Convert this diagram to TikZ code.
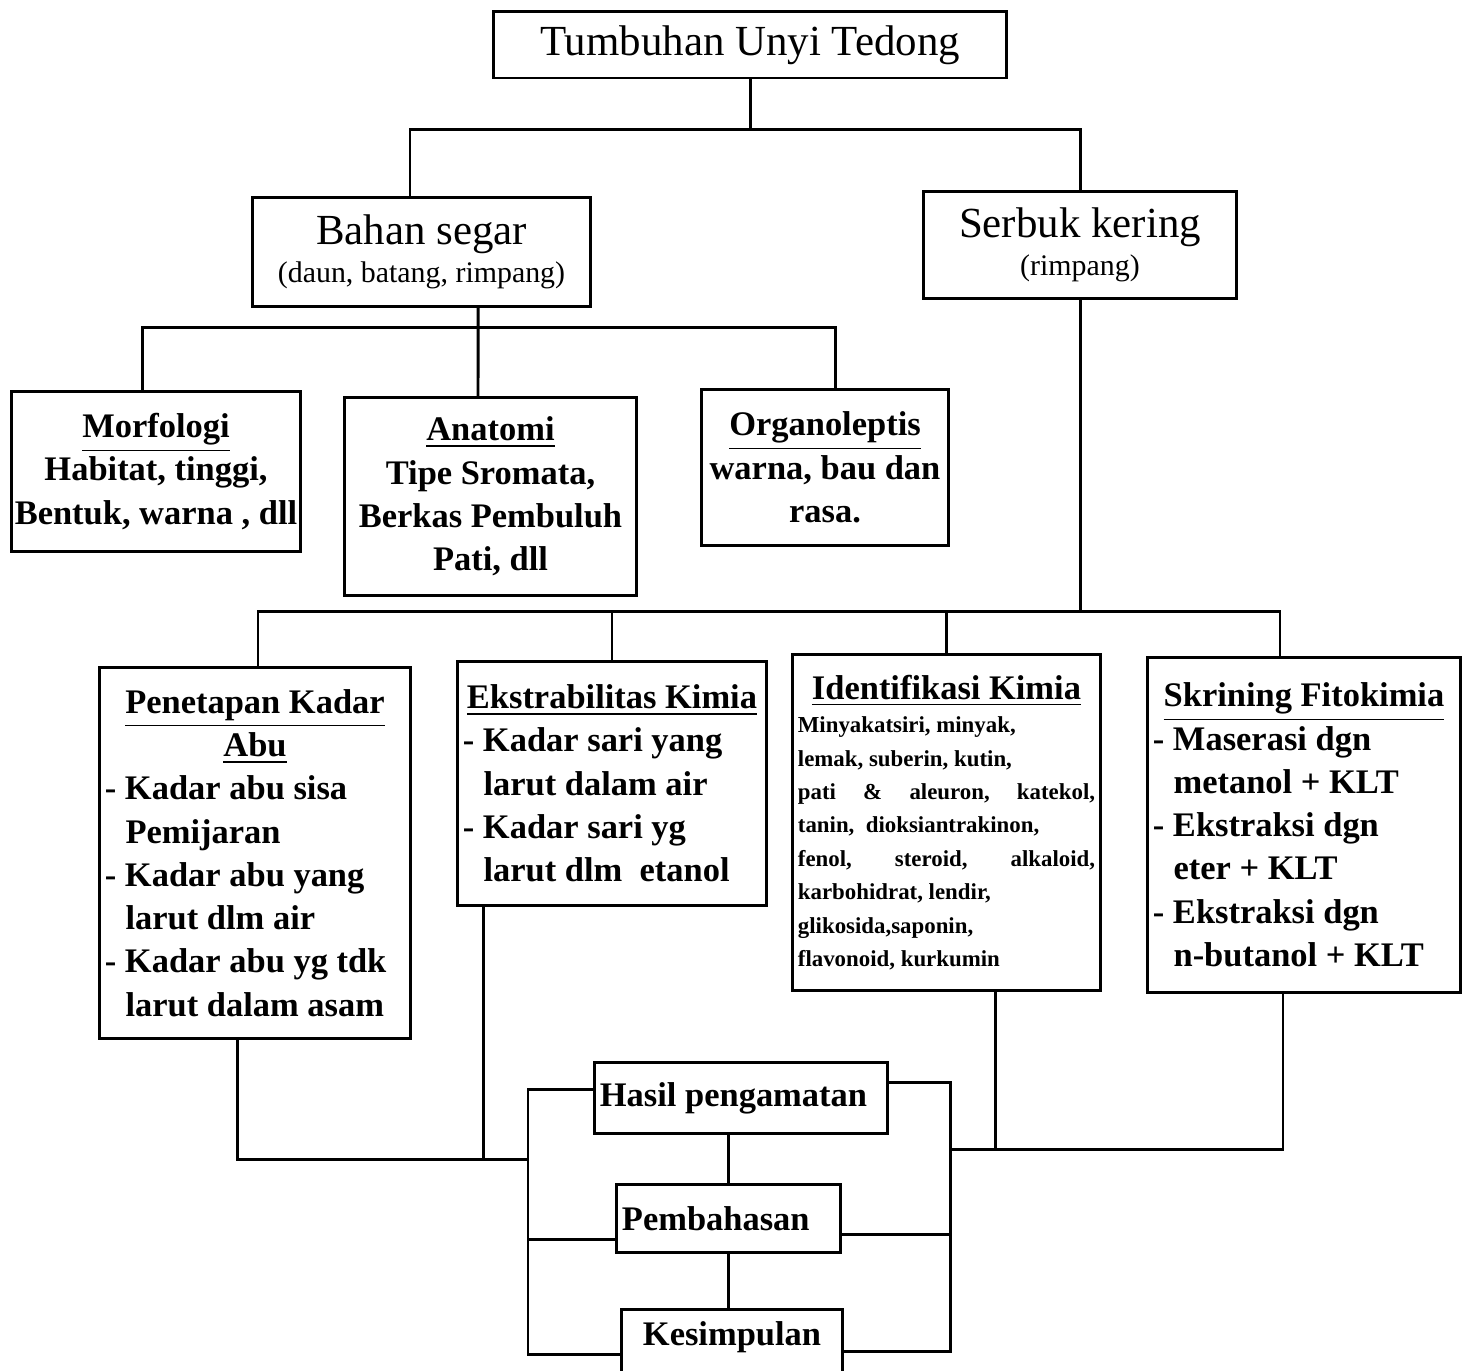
\documentclass[tikz,border=0pt]{standalone}
\usepackage{fontspec}
\setmainfont{Liberation Serif}
\newcommand{\indt}{\hspace*{0.6em}}
\begin{document}
\begin{tikzpicture}[x=0.01cm, y=-0.01cm, line width=0.85pt,
    box/.style={draw=black, line width=0.85pt, inner xsep=0.05cm, inner ysep=0pt,
      align=flush center, font=\fontsize{9.8}{12.3}\selectfont\bfseries},
    bigbox/.style={box, font=\fontsize{12.2}{10.8}\selectfont},
    listbox/.style={box, align=flush left}]
  \useasboundingbox (0,0) rectangle (1469,1371);
  \clip (0,0) rectangle (1469,1371);
  % top levels
  \node[bigbox, text width=5.02cm, minimum height=0.66cm] (top)    at ( 750.0,  45.0) {Tumbuhan Unyi Tedong};
  \node[bigbox, text width=3.27cm, minimum height=1.08cm] (bahan)  at ( 421.5, 252.0) {Bahan segar\\{\fontsize{8.5}{10.8}\selectfont (daun, batang, rimpang)}};
  \node[bigbox, text width=3.03cm, minimum height=1.06cm] (serbuk) at (1080.0, 245.0) {Serbuk kering\\{\fontsize{8.5}{10.8}\selectfont (rimpang)}};
  % bahan segar
  \node[box, text width=2.84cm, minimum height=1.59cm, inner xsep=0.02cm] (morf) at (156.0, 471.5) {\underline{Morfologi}\\Habitat, tinggi,\\Bentuk, warna , dll};
  \node[box, text width=2.81cm, minimum height=1.97cm] (anat)   at ( 490.5, 496.5) {\underline{Anatomi}\\Tipe Sromata,\\Berkas Pembuluh\\Pati, dll};
  \node[box, text width=2.36cm, minimum height=1.55cm] (organo) at ( 825.0, 467.5) {\underline{Organoleptis}\\warna, bau dan\\rasa.};
  % serbuk kering
  \node[listbox, text width=3.00cm, minimum height=3.70cm] (abu) at ( 255.0, 853.0)
    {{\centering\underline{Penetapan Kadar}\\\underline{Abu}\par}
     - Kadar abu sisa\\\indt Pemijaran\\- Kadar abu yang\\\indt larut dlm air\\- Kadar abu yg tdk\\\indt larut dalam asam};
  \node[listbox, text width=2.98cm, minimum height=2.43cm] (ekstr) at ( 612.0, 783.5)
    {{\centering\underline{Ekstrabilitas Kimia}\par}
     - Kadar sari yang\\\indt larut dalam air\\- Kadar sari yg\\\indt larut dlm\ \ etanol};
  \node[listbox, text width=2.97cm, minimum height=3.35cm] (ident) at ( 946.5, 822.5)
    {{\centering\underline{Identifikasi Kimia}\par}
     {\fontsize{6.5}{9.5}\selectfont Minyakatsiri, minyak,\\lemak, suberin, kutin,\\pati \hfill\& \hfill aleuron, \hfill katekol,\\tanin,\ \ dioksiantrakinon,\\fenol, \hfill steroid, \hfill alkaloid,\\karbohidrat, lendir,\\glikosida,saponin,\\flavonoid, kurkumin\par}};
  \node[listbox, text width=3.02cm, minimum height=3.34cm] (skrin) at (1304.0, 825.0)
    {{\centering\underline{Skrining Fitokimia}\par}
     - Maserasi dgn\\\indt metanol + KLT\\- Ekstraksi dgn\\\indt eter + KLT\\- Ekstraksi dgn\\\indt n-butanol + KLT};
  % hasil
  \node[listbox, text width=2.82cm, minimum height=0.70cm] (hasil)  at ( 741.0,1098.0) {Hasil pengamatan};
  \node[listbox, text width=2.13cm, minimum height=0.67cm] (bahas)  at ( 728.5,1218.5) {Pembahasan};
  \node[box, text width=2.10cm, minimum height=0.90cm, text depth=0.42cm] (simpul) at ( 732.0,1355.0) {Kesimpulan};
  % connectors
  \coordinate (j1) at (750,130);
  \coordinate (j2) at (478,328);
  \coordinate (j3) at (1080,612);
  \draw (top.south) -- (j1);
  \draw ([xshift=-0.115cm]bahan.north) |- (j1) -| (serbuk.north);
  \draw ([xshift=0.565cm]bahan.south) -- ([xshift=-0.125cm]anat.north);
  \draw ([xshift=-0.13cm]morf.north) |- (j2) -| ([xshift=0.1cm]organo.north);
  \draw (serbuk.south) -- (j3);
  \draw ([xshift=0.03cm]abu.north) |- (j3) -| ([xshift=-0.24cm]skrin.north);
  \draw (ekstr.north) -- (ekstr.north |- j3);
  \draw (ident.north) -- (ident.north |- j3);
  % to hasil
  \coordinate (lk) at (528,1160);
  \coordinate (rk) at (950,1150);
  \draw ([xshift=-0.17cm]abu.south) |- (lk);
  \draw ([xshift=0.27cm]ekstr.south west) coordinate (es) -- (es |- lk);
  \draw ([xshift=0.485cm]ident.south) coordinate (is) -- (is |- rk);
  \draw ([xshift=-0.21cm]skrin.south) |- (rk);
  \coordinate (lb) at (528,1240);
  \coordinate (rb) at (950,1235);
  \draw ([yshift=0.08cm]hasil.west) -| (lb) |- (simpul.west);
  \draw (lb) -- (lb -| bahas.west);
  \draw ([yshift=0.15cm]hasil.east) -| (rb) |- ([yshift=0.03cm]simpul.east);
  \draw (rb) -- (rb -| bahas.east);
  \draw (bahas.north) -- (bahas.north |- hasil.south);
  \draw (bahas.south) -- (bahas.south |- simpul.north);
\end{tikzpicture}
\end{document}
